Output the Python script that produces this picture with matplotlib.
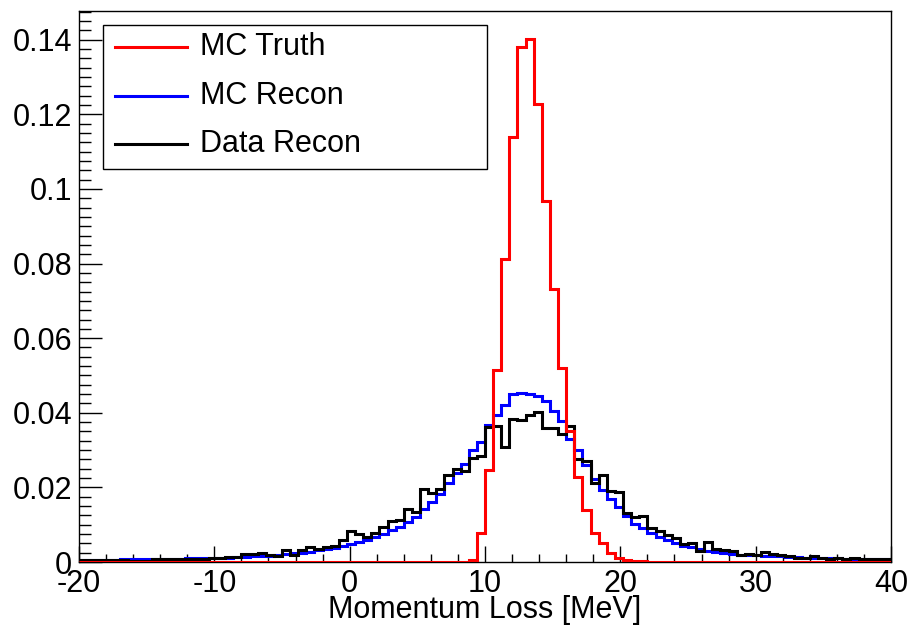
import numpy as np
import matplotlib
matplotlib.use("Agg")
import matplotlib.pyplot as plt
from matplotlib.ticker import MultipleLocator, FixedLocator

plt.rcParams['font.family'] = ['Liberation Sans', 'DejaVu Sans']

# 100 bins of 0.6 MeV from -20 to 40
x_lo, x_hi, n_bins = -20.0, 40.0, 100

mc_truth = [0.0] * 47 + [
    0.0001, 0.0005, 0.0078, 0.0247, 0.0514, 0.0813, 0.1140, 0.1380, 0.1403, 0.1227,
    0.0967, 0.0733, 0.0519, 0.0350, 0.0227, 0.0139, 0.0077, 0.0050, 0.0023, 0.0012,
    0.0006, 0.0004, 0.0002, 0.0001,
] + [0.0] * 29

mc_recon = [
    0.0005, 0.0005, 0.0006, 0.0006, 0.0006, 0.0007, 0.0007, 0.0007, 0.0008, 0.0008,
    0.0008, 0.0009, 0.0009, 0.0010, 0.0010, 0.0011, 0.0011, 0.0012, 0.0012, 0.0013,
    0.0014, 0.0015, 0.0016, 0.0017, 0.0019, 0.0021, 0.0023, 0.0025, 0.0028, 0.0031,
    0.0034, 0.0038, 0.0043, 0.0048, 0.0054, 0.0060, 0.0068, 0.0076, 0.0085, 0.0094,
    0.0107, 0.0121, 0.0141, 0.0161, 0.0183, 0.0212, 0.0238, 0.0263, 0.0299, 0.0323,
    0.0367, 0.0395, 0.0422, 0.0450, 0.0452, 0.0451, 0.0445, 0.0432, 0.0405, 0.0379,
    0.0330, 0.0299, 0.0259, 0.0223, 0.0192, 0.0170, 0.0148, 0.0122, 0.0103, 0.0091,
    0.0078, 0.0066, 0.0059, 0.0050, 0.0043, 0.0039, 0.0034, 0.0029, 0.0027, 0.0023,
    0.0021, 0.0020, 0.0019, 0.0018, 0.0017, 0.0016, 0.0015, 0.0014, 0.0013, 0.0012,
    0.0012, 0.0011, 0.0010, 0.0010, 0.0009, 0.0009, 0.0008, 0.0008, 0.0007, 0.0007,
]

data_recon = [
    0.0005, 0.0005, 0.0005, 0.0006, 0.0006, 0.0006, 0.0003, 0.0004, 0.0004, 0.0009,
    0.0007, 0.0007, 0.0007, 0.0008, 0.0009, 0.0008, 0.0012, 0.0012, 0.0013, 0.0014,
    0.0021, 0.0022, 0.0024, 0.0019, 0.0017, 0.0032, 0.0019, 0.0032, 0.0039, 0.0036,
    0.0041, 0.0044, 0.0060, 0.0083, 0.0075, 0.0066, 0.0079, 0.0095, 0.0111, 0.0113,
    0.0141, 0.0134, 0.0197, 0.0185, 0.0197, 0.0234, 0.0250, 0.0245, 0.0279, 0.0285,
    0.0362, 0.0365, 0.0308, 0.0383, 0.0380, 0.0395, 0.0401, 0.0359, 0.0359, 0.0343,
    0.0365, 0.0276, 0.0272, 0.0211, 0.0234, 0.0189, 0.0188, 0.0132, 0.0120, 0.0124,
    0.0092, 0.0084, 0.0072, 0.0063, 0.0047, 0.0052, 0.0030, 0.0054, 0.0035, 0.0033,
    0.0030, 0.0018, 0.0021, 0.0020, 0.0026, 0.0021, 0.0019, 0.0016, 0.0012, 0.0010,
    0.0016, 0.0012, 0.0009, 0.0012, 0.0009, 0.0010, 0.0008, 0.0009, 0.0007, 0.0007,
]

series_names = ["MC Truth", "MC Recon", "Data Recon"]
series_colors = ["#ff0000", "#0000ff", "#000000"]

x_ticks = [-20, -10, 0, 10, 20, 30, 40]
x_tick_labels = ["-20", "-10", "0", "10", "20", "30", "40"]
y_ticks = [0, 0.02, 0.04, 0.06, 0.08, 0.10, 0.12, 0.14]
y_tick_labels = ["0", "0.02", "0.04", "0.06", "0.08", "0.1", "0.12", "0.14"]

edges = np.linspace(x_lo, x_hi, n_bins + 1)

fig = plt.figure(figsize=(9.11, 6.26), dpi=100)
ax = fig.add_axes([79 / 911, 1 - 562 / 626, 812 / 911, 551 / 626])

ax.stairs(mc_recon, edges, color=series_colors[1], lw=2.2, baseline=None, zorder=2)
ax.stairs(data_recon, edges, color=series_colors[2], lw=2.2, baseline=None, zorder=3)
ax.stairs(mc_truth, edges, color=series_colors[0], lw=2.2, baseline=None, zorder=4)

ax.set_xlim(x_lo, x_hi)
ax.set_ylim(0, 0.1477)

ax.xaxis.set_major_locator(FixedLocator(x_ticks))
ax.set_xticklabels(x_tick_labels)
ax.xaxis.set_minor_locator(MultipleLocator(2))
ax.yaxis.set_major_locator(FixedLocator(y_ticks))
ax.set_yticklabels(y_tick_labels)
ax.yaxis.set_minor_locator(MultipleLocator(0.0025))

ax.tick_params(axis='both', which='both', direction='in', width=1, labelsize=22,
               top=False, right=False)
ax.tick_params(axis='x', which='major', length=11.5, pad=5)
ax.tick_params(axis='x', which='minor', length=5.8)
ax.tick_params(axis='y', which='major', length=16.5, pad=5)
ax.tick_params(axis='y', which='minor', length=8.6)
for s in ax.spines.values():
    s.set_linewidth(1)

ax.set_xlabel("Momentum Loss [MeV]", fontsize=22)
ax.xaxis.set_label_coords(0.5, -0.06)

# legend box, drawn ROOT style
ax.add_patch(plt.Rectangle((0.029, 0.714), 0.474, 0.261, transform=ax.transAxes,
                           facecolor='white', edgecolor='black', lw=1, zorder=5))
row_y = [0.935, 0.846, 0.759]
for name, color, yy in zip(series_names, series_colors, row_y):
    ax.plot([0.044, 0.1324], [yy, yy], color=color, lw=2.2, transform=ax.transAxes, zorder=6)
    ax.text(0.149, yy, name, fontsize=22, va='center', ha='left',
            transform=ax.transAxes, zorder=6)

fig.savefig("out.png", dpi=100)
